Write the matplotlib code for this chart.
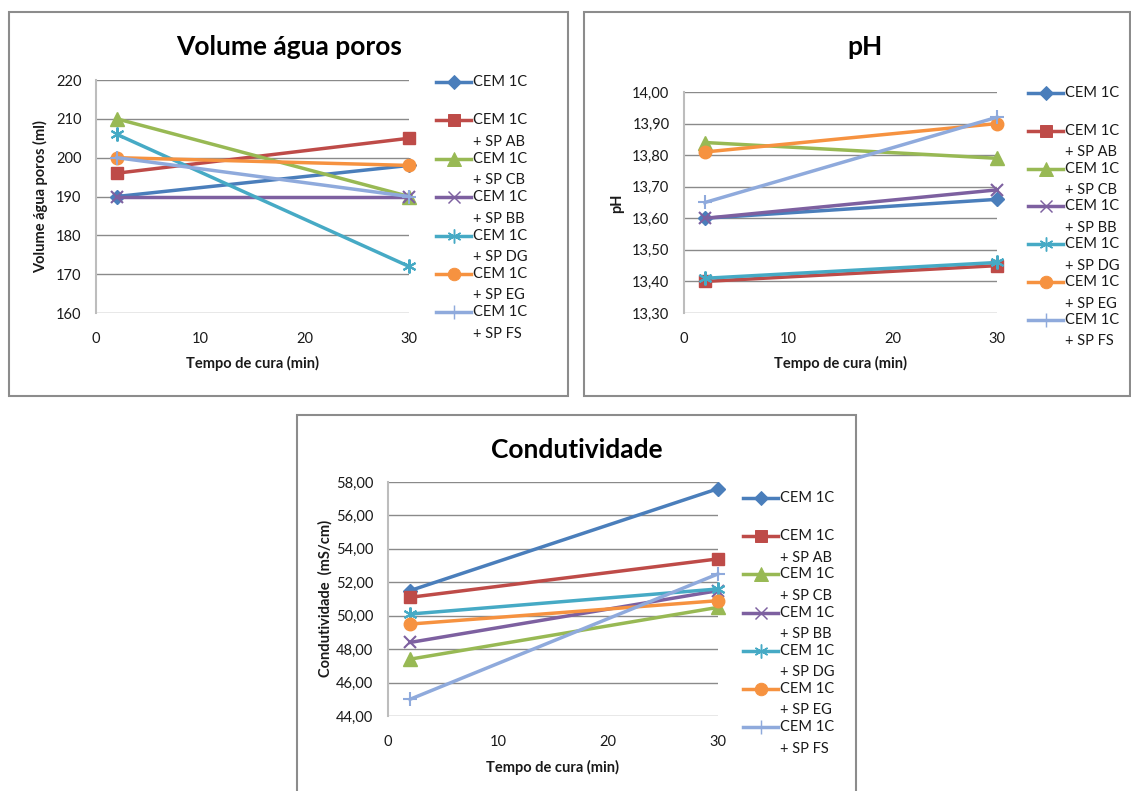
import matplotlib
matplotlib.use("Agg")
import matplotlib.pyplot as plt
from matplotlib.lines import Line2D
from matplotlib.patches import Rectangle
from matplotlib.ticker import FuncFormatter

plt.rcParams['font.family'] = ['Lato', 'DejaVu Sans']

# ---- data ----
tempo = [2, 30]
series_labels = ["CEM 1C", "CEM 1C\n+ SP AB", "CEM 1C\n+ SP CB", "CEM 1C\n+ SP BB",
                 "CEM 1C\n+ SP DG", "CEM 1C\n+ SP EG", "CEM 1C\n+ SP FS"]
volume = [[190, 198], [196, 205], [210, 190], [190, 190],
          [206, 172], [200, 198], [200, 190]]
ph = [[13.60, 13.66], [13.40, 13.45], [13.84, 13.79], [13.60, 13.69],
      [13.41, 13.46], [13.81, 13.90], [13.65, 13.92]]
condutividade = [[51.5, 57.6], [51.1, 53.4], [47.4, 50.5], [48.4, 51.5],
                 [50.1, 51.6], [49.5, 50.9], [45.0, 52.5]]
x_ticks = [0, 10, 20, 30]
vol_ticks = [160, 170, 180, 190, 200, 210, 220]
ph_ticks = [13.30, 13.40, 13.50, 13.60, 13.70, 13.80, 13.90, 14.00]
cond_ticks = [44, 46, 48, 50, 52, 54, 56, 58]

# ---- styles ----
colors = ['#4A7EBB', '#BE4B48', '#98B954', '#7D60A0', '#46AAC5', '#F69240', '#8FAADC']
markers = ['D', 's', '^', 'x', (6, 2, 0), 'o', '+']
msizes = [7.5, 9, 9.5, 8.5, 10, 9, 10]
mew = [1, 1, 1, 1.5, 1.5, 1, 1.5]
TXT = '#1a1a1a'

W, H = 1131, 791
fig = plt.figure(figsize=(W / 100, H / 100), dpi=100)


def fbox(x0, y0, x1, y1):
    return [x0 / W, 1 - y1 / H, (x1 - x0) / W, (y1 - y0) / H]


def fx(x):
    return x / W


def fy(y):
    return 1 - y / H


# panel frames
for (x0, y0, x1, y1) in [(9, 12, 568, 396), (584, 12, 1130, 396), (297, 415, 856, 800)]:
    fig.add_artist(Rectangle((fx(x0), fy(y1)), fx(x1) - fx(x0), fy(y0) - fy(y1),
                             transform=fig.transFigure, fill=False,
                             edgecolor='#8C8C8C', linewidth=1.5))


def panel(rect, data, ylim, yticks, fmt, title, title_xy, ylabel, ylabel_xy,
          xlabel_xy, leg_x, leg_y, leg_dy):
    ax = fig.add_axes(fbox(*rect))
    for i, vals in enumerate(data):
        ax.plot(tempo, vals, color=colors[i], lw=2.5, marker=markers[i],
                ms=msizes[i], mew=mew[i], mfc=colors[i], mec=colors[i],
                clip_on=False, zorder=3 + i)
    ax.set_xlim(0, 30)
    ax.set_ylim(*ylim)
    ax.set_xticks(x_ticks)
    ax.set_yticks(yticks)
    ax.yaxis.set_major_formatter(FuncFormatter(fmt))
    ax.grid(axis='y', color='#8A8A8A', lw=1)
    ax.set_axisbelow(True)
    for s in ['top', 'right', 'bottom']:
        ax.spines[s].set_visible(False)
    ax.spines['left'].set_color('#BDBDBD')
    ax.spines['left'].set_linewidth(1.5)
    ax.tick_params(axis='both', length=0, labelsize=10.5, colors=TXT)
    ax.tick_params(axis='y', pad=10.5)
    ax.tick_params(axis='x', pad=14)
    fig.text(fx(title_xy[0]), fy(title_xy[1]), title, ha='center', va='center',
             fontsize=19, fontweight='bold', color='black')
    fig.text(fx(ylabel_xy[0]), fy(ylabel_xy[1]), ylabel, ha='center', va='center',
             rotation=90, fontsize=10.5, fontweight='bold', color=TXT)
    fig.text(fx(xlabel_xy[0]), fy(xlabel_xy[1]), "Tempo de cura (min)", ha='center',
             va='center', fontsize=10.5, fontweight='bold', color=TXT)
    # legend keys
    lx0, lx1 = leg_x, leg_x + 35
    for i, lab in enumerate(series_labels):
        y = leg_y + i * leg_dy
        fig.add_artist(Line2D([fx(lx0), fx(lx1)], [fy(y), fy(y)],
                              transform=fig.transFigure, color=colors[i], lw=2.5))
        fig.add_artist(Line2D([fx((lx0 + lx1) / 2)], [fy(y)], transform=fig.transFigure,
                              color=colors[i], marker=markers[i], ms=msizes[i],
                              mew=mew[i] * 0.7, mfc=colors[i], mec=colors[i], lw=0))
        lines = lab.split("\n")
        for k, t in enumerate(lines):
            fig.text(fx(lx1 + 2), fy(y + k * 21.5), t, ha='left', va='center',
                     fontsize=10.5, color=TXT)
    return ax


panel((96, 80, 409, 313), volume, (160, 220), vol_ticks, lambda v, p: f"{v:.0f}",
      "Volume água poros", (289, 47), "Volume água poros (ml)", (41, 197),
      (253, 363), 436, 82, 38.4)

panel((684, 92, 997, 313), ph, (13.30, 14.00), ph_ticks,
      lambda v, p: f"{v:.2f}".replace('.', ','),
      "pH", (865, 47), "pH", (617, 203), (840, 363), 1028, 93, 37.8)

panel((388, 482, 718, 716), condutividade, (44, 58), cond_ticks,
      lambda v, p: f"{v:.2f}".replace('.', ','),
      "Condutividade", (577, 450), "Condutividade  (mS/cm)", (325, 598),
      (553, 767), 743, 498, 38.2)

fig.savefig("out.png", dpi=100)
